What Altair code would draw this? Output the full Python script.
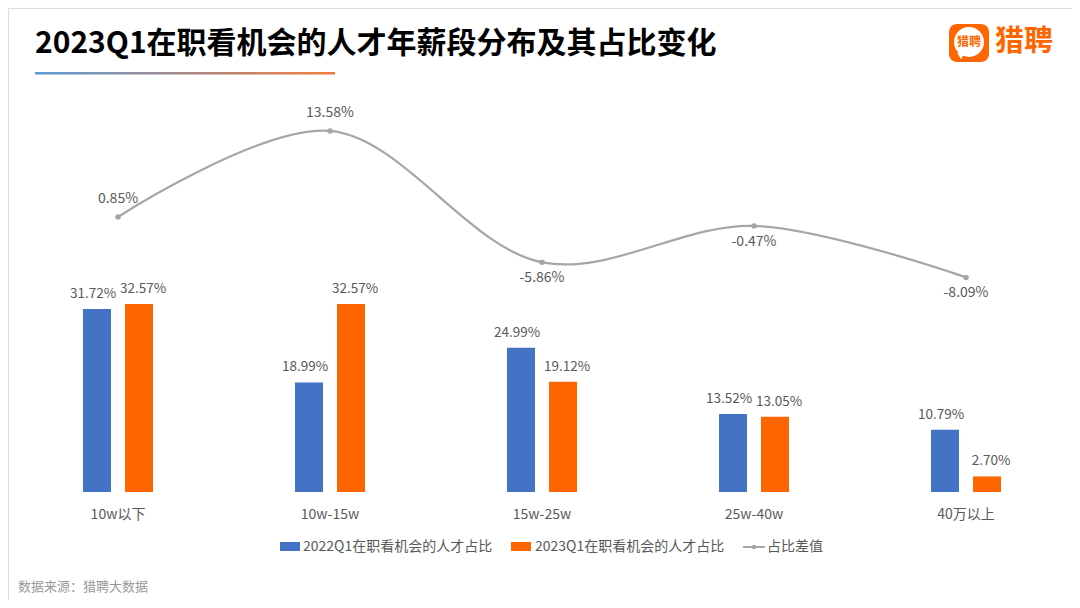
import altair as alt
import pandas as pd

categories = ["10w以下", "10w-15w", "15w-25w", "25w-40w", "40万以上"]
series_names = ["2022Q1在职看机会的人才占比", "2023Q1在职看机会的人才占比"]
values_2022 = [31.72, 18.99, 24.99, 13.52, 10.79]
values_2023 = [32.57, 32.57, 19.12, 13.05, 2.70]
diff_name = "占比差值"
diff_values = [0.85, 13.58, -5.86, -0.47, -8.09]

BLUE = "#4472C4"
ORANGE = "#FF6600"
GRAY = "#A6A6A6"
TXT = "#595959"
FONT = "Noto Sans CJK SC"

rows = []
for c, a, b in zip(categories, values_2022, values_2023):
    rows.append({"cat": c, "series": series_names[0], "v": a, "lab": f"{a:.2f}%"})
    rows.append({"cat": c, "series": series_names[1], "v": b, "lab": f"{b:.2f}%"})
bars_df = pd.DataFrame(rows)
line_df = pd.DataFrame({"cat": categories, "d": diff_values,
                        "lab": [f"{v:.2f}%" for v in diff_values]})
cat_df = pd.DataFrame({"cat": categories})

OX, OY = 8, 8

xs = alt.Scale(range=[4, 1064], paddingInner=0, paddingOuter=0)
xenc = alt.X("cat:N", sort=categories, scale=xs, axis=None)
xoff = alt.XOffset("series:N", sort=series_names, scale=alt.Scale(range=[64, 148]))
ybar = alt.Y("v:Q", scale=alt.Scale(domain=[0, 40], range=[484, 253.2]), axis=None)

bars = alt.Chart(bars_df).mark_bar(width=28).encode(
    x=xenc, xOffset=xoff, y=ybar,
    color=alt.Color("series:N", sort=series_names,
                    scale=alt.Scale(domain=series_names, range=[BLUE, ORANGE]), legend=None),
)
bar_text_a = alt.Chart(bars_df).transform_filter(
    alt.datum.series == series_names[0]).mark_text(
    baseline="bottom", dy=-8, dx=-4, font=FONT, fontSize=13.5, color=TXT).encode(
    x=xenc, xOffset=xoff, y=ybar, text="lab:N")
bar_text_b = alt.Chart(bars_df).transform_filter(
    alt.datum.series == series_names[1]).mark_text(
    baseline="bottom", dy=-8, dx=4, font=FONT, fontSize=13.5, color=TXT).encode(
    x=xenc, xOffset=xoff, y=ybar, text="lab:N")

cat_text = alt.Chart(cat_df).mark_text(baseline="middle", font=FONT, fontSize=14, color=TXT).encode(
    x=xenc, y=alt.value(515 - OY), text="cat:N")

yline = alt.Y("d:Q", scale=alt.Scale(domain=[-10, 15], range=[282.3, 113.3]), axis=None)
line = alt.Chart(line_df).mark_line(interpolate="catmull-rom", color=GRAY, strokeWidth=2.2).encode(x=xenc, y=yline)
pts = alt.Chart(line_df).mark_point(filled=True, size=30, color=GRAY, opacity=1).encode(x=xenc, y=yline)
pos_text = alt.Chart(line_df).transform_filter("datum.d >= 0").mark_text(
    baseline="bottom", dy=-11, font=FONT, fontSize=14, color=TXT).encode(x=xenc, y=yline, text="lab:N")
neg_text = alt.Chart(line_df).transform_filter("datum.d < 0").mark_text(
    baseline="top", dy=9, font=FONT, fontSize=14, color=TXT).encode(x=xenc, y=yline, text="lab:N")

def tx(text, x, y, size, color, weight="normal", align="left"):
    return alt.Chart(pd.DataFrame({"t": [text]})).mark_text(
        align=align, baseline="middle", font=FONT, fontSize=size, color=color, fontWeight=weight
    ).encode(x=alt.value(x - OX), y=alt.value(y - OY), text="t:N")

title = tx("2023Q1在职看机会的人才年薪段分布及其占比变化", 35, 44, 30, "#000000", "bold")
underline = alt.Chart(pd.DataFrame({"a": [0]})).mark_rect(
    color=alt.Gradient(gradient="linear", x1=0, x2=1, y1=0, y2=0,
                       stops=[alt.GradientStop(color="#5B9BD5", offset=0),
                              alt.GradientStop(color="#F4793B", offset=1)])
).encode(x=alt.value(35 - OX), x2=alt.value(335 - OX), y=alt.value(72 - OY), y2=alt.value(74.5 - OY))

logo_box = alt.Chart(pd.DataFrame({"a": [0]})).mark_rect(color=ORANGE, cornerRadius=8).encode(
    x=alt.value(949 - OX), x2=alt.value(989 - OX), y=alt.value(24 - OY), y2=alt.value(62 - OY))
logo_bubble = alt.Chart(pd.DataFrame({"a": [0]})).mark_point(
    shape="circle", filled=True, color="white", size=900, opacity=1).encode(
    x=alt.value(969 - OX), y=alt.value(42 - OY))
logo_tail = alt.Chart(pd.DataFrame({"a": [0]})).mark_point(
    shape="triangle-down", filled=True, color="white", size=60, opacity=1).encode(
    x=alt.value(961 - OX), y=alt.value(56 - OY))
logo_small = tx("猎聘", 969, 42, 12, ORANGE, "bold", "center")
logo_big = tx("猎聘", 995, 42, 29, ORANGE, "bold")

leg_blue = alt.Chart(pd.DataFrame({"a": [0]})).mark_rect(color=BLUE).encode(
    x=alt.value(280 - OX), x2=alt.value(300 - OX), y=alt.value(542 - OY), y2=alt.value(551 - OY))
leg_orange = alt.Chart(pd.DataFrame({"a": [0]})).mark_rect(color=ORANGE).encode(
    x=alt.value(511 - OX), x2=alt.value(531 - OX), y=alt.value(542 - OY), y2=alt.value(551 - OY))
leg_line = alt.Chart(pd.DataFrame({"a": [0]})).mark_rule(color=GRAY, strokeWidth=2).encode(
    x=alt.value(743 - OX), x2=alt.value(765 - OX), y=alt.value(547 - OY))
leg_dot = alt.Chart(pd.DataFrame({"a": [0]})).mark_point(filled=True, color=GRAY, size=20, opacity=1).encode(
    x=alt.value(754 - OX), y=alt.value(547 - OY))
leg_t1 = tx(series_names[0], 303, 547, 14, TXT)
leg_t2 = tx(series_names[1], 535, 547, 14, TXT)
leg_t3 = tx(diff_name, 767, 547, 14, TXT)
footer = tx("数据来源：猎聘大数据", 18, 587, 13, "#999999")

chart = alt.layer(
    bars, bar_text_a, bar_text_b, cat_text, line, pts, pos_text, neg_text,
    title, underline, logo_box, logo_bubble, logo_tail, logo_small, logo_big,
    leg_blue, leg_orange, leg_line, leg_dot, leg_t1, leg_t2, leg_t3, footer
).resolve_scale(y="independent").properties(
    width=1064, height=592,
    autosize=alt.AutoSizeParams(type="fit", contains="padding"),
    padding=0,
).configure_view(strokeWidth=0, stroke="transparent").configure_axis(
    domain=False, grid=False, ticks=False, labels=False
).configure(background="white")

chart.save("out.html", embed_options={"renderer": "svg", "actions": False})
